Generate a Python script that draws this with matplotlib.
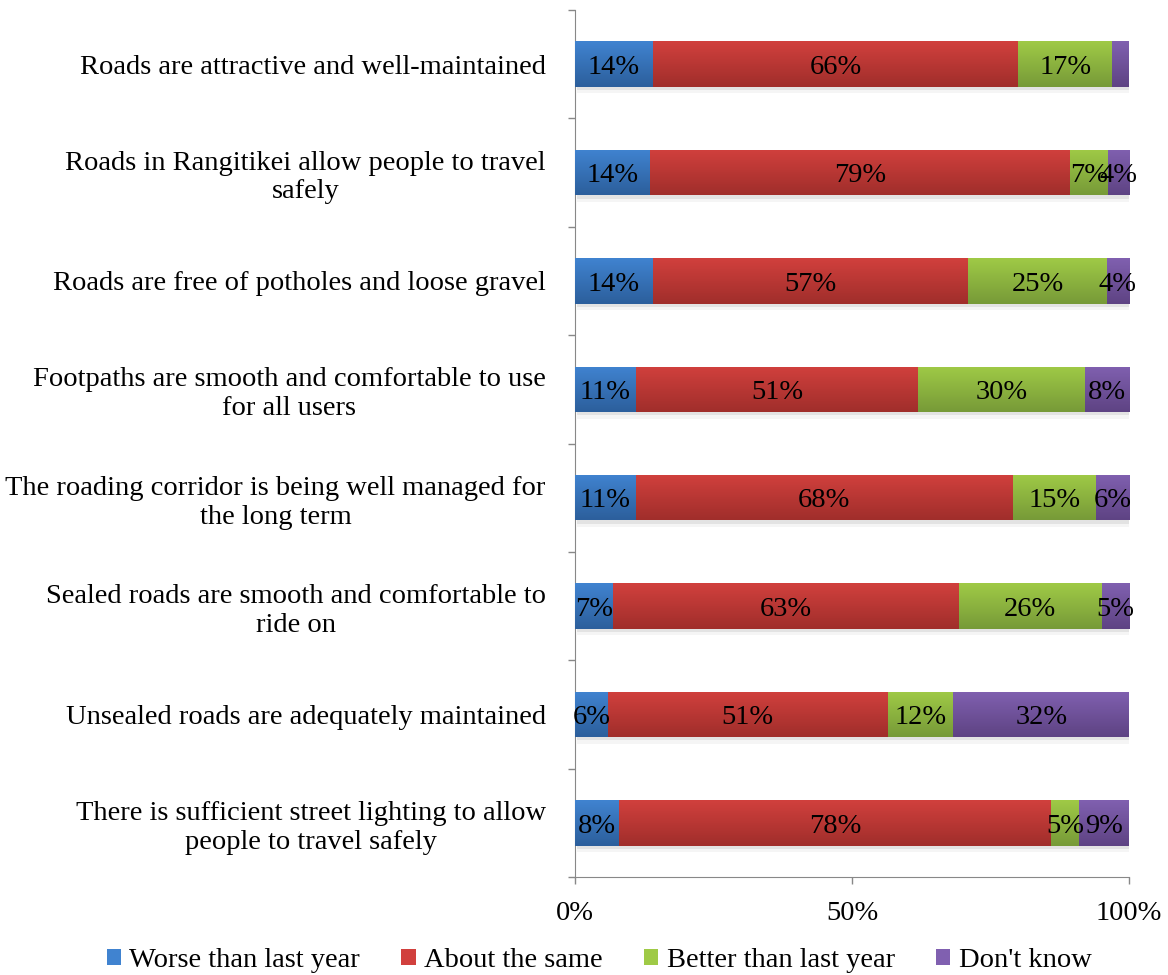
import numpy as np
import matplotlib
matplotlib.use("Agg")
import matplotlib.pyplot as plt
from matplotlib.colors import LinearSegmentedColormap
from matplotlib.patches import Rectangle

plt.rcParams['font.family'] = ['Liberation Serif', 'DejaVu Serif']
FS = 20.5

categories = [
    "Roads are attractive and well-maintained",
    "Roads in Rangitikei allow people to travel\nsafely",
    "Roads are free of potholes and loose gravel",
    "Footpaths are smooth and comfortable to use\nfor all users",
    "The roading corridor is being well managed for\nthe long term",
    "Sealed roads are smooth and comfortable to\nride on",
    "Unsealed roads are adequately maintained",
    "There is sufficient street lighting to allow\npeople to travel safely",
]
series = ["Worse than last year", "About the same", "Better than last year", "Don't know"]
worse = [14, 14, 14, 11, 11, 7, 6, 8]
same = [66, 79, 57, 51, 68, 63, 51, 78]
better = [17, 7, 25, 30, 15, 26, 12, 5]
dont_know = [3, 4, 4, 8, 6, 5, 32, 9]
# first "don't know" segment carries no label
show_label = [[True] * 8, [True] * 8, [True] * 8, [False] + [True] * 7]

# (top, bottom) shades for each series
shades = [("#4083d0", "#2c5f9c"), ("#d1403d", "#a02e2b"),
          ("#9fca46", "#779a38"), ("#8060b0", "#5e4383")]

data = np.array([worse, same, better, dont_know], dtype=float)
pct = data / data.sum(axis=0) * 100

fig = plt.figure(figsize=(11.68, 9.75), dpi=100)
ax = fig.add_axes([0.4923, 0.1005, 0.4743, 0.8892])

y = np.arange(len(categories))
h = 0.42
left = np.zeros(len(categories))
for k, name in enumerate(series):
    top_c, bot_c = shades[k]
    cmap = LinearSegmentedColormap.from_list(name, [top_c, bot_c])
    bars = ax.barh(y, pct[k], left=left, height=h, color=top_c, label=name,
                   edgecolor='none', zorder=2)
    for i, bar in enumerate(bars):
        x0, w = bar.get_x(), bar.get_width()
        # soft shadow under each bar
        for off, a in [(0.03, 0.07), (0.06, 0.04)]:
            ax.add_patch(Rectangle((x0 + 0.3, y[i] - h / 2 + off), w, h,
                                   facecolor='#000000', alpha=a,
                                   edgecolor='none', zorder=1))
        grad = np.linspace(0, 1, 64).reshape(-1, 1)
        im = ax.imshow(grad, cmap=cmap, aspect='auto', origin='upper',
                       extent=(x0, x0 + w, y[i] + h / 2, y[i] - h / 2),
                       zorder=3)
        im.set_clip_path(bar)
        if show_label[k][i]:
            ax.text(x0 + w / 2, y[i] + 0.03, f"{int(data[k][i])}%",
                    ha='center', va='center', fontsize=FS, zorder=4)
    left += pct[k]

ax.set_xlim(0, 100)
ax.set_ylim(len(categories) - 0.5, -0.5)

ax.set_yticks(y)
ax.set_yticklabels(categories, fontsize=FS)
for lbl in ax.get_yticklabels():
    lbl.set_multialignment('center')
    lbl.set_linespacing(1.2)
ax.set_yticks(np.arange(-0.5, len(categories)), minor=True)
ax.tick_params(axis='y', which='major', length=0, pad=21)
ax.tick_params(axis='y', which='minor', length=5, color='#888888', width=1)

ax.set_xticks([0, 50, 100])
ax.set_xticklabels(["0%", "50%", "100%"], fontsize=FS)
ax.tick_params(axis='x', length=5, color='#888888', width=1, pad=12)

for s in ['top', 'right']:
    ax.spines[s].set_visible(False)
for s in ['left', 'bottom']:
    ax.spines[s].set_color('#888888')

handles, labels = ax.get_legend_handles_labels()
fig.legend(handles, labels, loc='lower center', bbox_to_anchor=(0.513, -0.024),
           ncol=4, frameon=False, fontsize=FS, handlelength=0.5,
           handleheight=0.5, handletextpad=0.3, columnspacing=1.45)

fig.savefig("out.png", dpi=100)
